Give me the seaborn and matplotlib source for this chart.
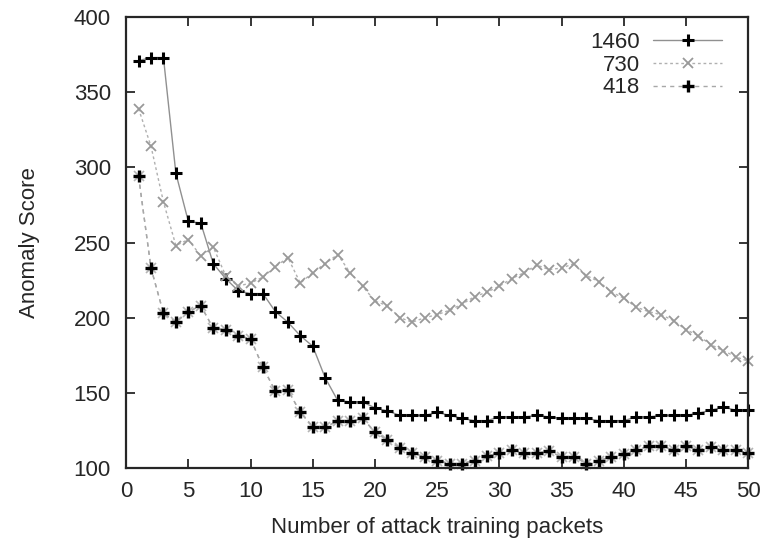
import pandas as pd
import matplotlib
matplotlib.use("Agg")
import matplotlib.pyplot as plt
import seaborn as sns

sns.set_style("ticks")
plt.rcParams["font.family"] = ["Liberation Sans", "DejaVu Sans"]
plt.rcParams["xtick.direction"] = "in"
plt.rcParams["ytick.direction"] = "in"
plt.rcParams["xtick.top"] = True
plt.rcParams["ytick.right"] = True

packets = list(range(1, 51))

score_1460 = [371, 373, 373, 296, 264, 263, 236, 226, 218, 216,
              216, 204, 197, 188, 181, 160, 145, 144, 144, 140,
              138, 135, 135, 135, 137, 135, 133, 131.5, 131.5, 134,
              134, 134, 135, 134, 133, 133, 133, 131.5, 131.5, 131.5,
              134, 134, 135, 135, 135, 136.5, 138.5, 140.5, 138.5, 138.5]

score_730 = [339, 314, 277, 248, 252, 241, 247, 228, 221, 223,
             227, 234, 240, 223, 230, 236, 242, 230, 221, 211,
             208, 200, 197, 200, 202, 205, 209, 214, 217, 221,
             226, 230, 235, 232, 233, 236, 228, 224, 217, 213,
             207, 204, 202, 198, 192, 188, 182, 178, 174, 171]

score_418 = [294, 233, 203, 197, 204, 208, 193, 192, 188, 186,
             167, 151, 152, 137, 127.5, 127.5, 131, 131, 133, 124,
             118.5, 113.5, 110, 107.5, 105, 103, 103, 105, 108, 110,
             112, 110, 110, 111, 107.5, 107.5, 103, 105, 107.5, 109,
             112, 114.5, 114.5, 112, 114.5, 112, 114, 112, 112, 110]

fig = plt.figure(figsize=(7.69, 5.40), dpi=100)
ax = fig.add_axes([0.164, 0.1333, 0.809, 0.8352])

df = pd.DataFrame({"packets": packets, "1460": score_1460,
                   "730": score_730, "418": score_418})

sns.lineplot(data=df, x="packets", y="1460", ax=ax, color="#909090", lw=1,
             marker="+", ms=9, mec="black", mew=2.2, label="1460", clip_on=False)
sns.lineplot(data=df, x="packets", y="730", ax=ax, color="#b0b0b0", lw=1,
             linestyle=(0, (2, 2)), marker="x", ms=7, mec="#999999", mew=1.3,
             label="730", clip_on=False)
# faint diagonals of the star marker, then the bold cross on top
sns.lineplot(data=df, x="packets", y="418", ax=ax, color="#a8a8a8", lw=1,
             linestyle=(0, (3, 3)), marker="x", ms=7, mec="#b5b5b5", mew=1.2,
             clip_on=False, legend=False)
sns.lineplot(data=df, x="packets", y="418", ax=ax, color="#a8a8a8", lw=1,
             linestyle=(0, (3, 3)), marker="+", ms=9, mec="black", mew=2.4,
             label="418", clip_on=False)

ax.set_xlim(0, 50)
ax.set_ylim(100, 400)
ax.set_xticks(range(0, 51, 5))
ax.set_yticks(range(100, 401, 50))
ax.tick_params(labelsize=16, length=6.5, width=1.3)
ax.tick_params(axis="y", pad=11)
ax.tick_params(axis="x", pad=9)
for s in ax.spines.values():
    s.set_linewidth(1.6)
ax.set_xlabel("Number of attack training packets", fontsize=16, labelpad=11)
ax.set_ylabel("Anomaly Score", fontsize=16, labelpad=24)

# markerfirst=False right-aligns the rows, like the gnuplot key
ax.legend(loc="upper right", bbox_to_anchor=(1, 1.024), frameon=False,
          markerfirst=False, fontsize=16, handlelength=3.1,
          labelspacing=0.07, borderaxespad=0.77, handletextpad=0.6)

fig.savefig("out.png", dpi=100)
